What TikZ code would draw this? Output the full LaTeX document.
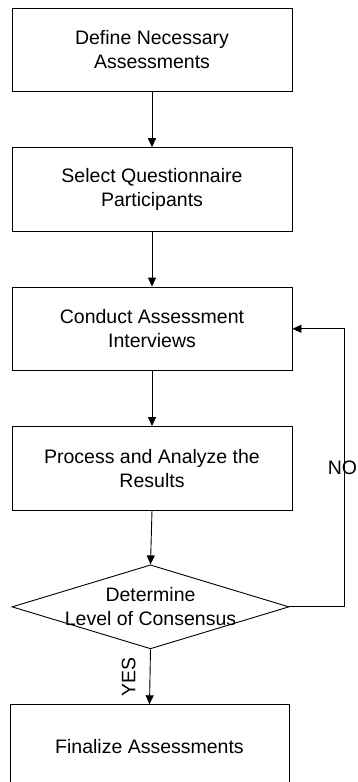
\documentclass[tikz,border=0pt]{standalone}
\usepackage{fontspec}
\setmainfont{Liberation Sans}
\usetikzlibrary{positioning,shapes.geometric,arrows.meta}

\begin{document}
\begin{tikzpicture}[
    node distance=55pt,
    every node/.style={font=\fontsize{19.5}{24}\selectfont},
    stepbox/.style={draw, line width=0.9pt, minimum width=280pt,
                    minimum height=83.5pt, inner sep=4pt, align=center},
    decision/.style={draw, diamond, line width=0.9pt, minimum width=277pt,
                     minimum height=84pt, inner sep=0pt},
    flow/.style={line width=0.9pt, -{Triangle[width=8pt,length=9pt]}}
  ]
    \useasboundingbox (0,0) rectangle (357pt,-782pt);

    % Columna principal, de arriba abajo
    \node[stepbox] (define) at (152pt,-50pt) {Define Necessary\\Assessments};
    \node[stepbox, below=of define]  (select)  {Select Questionnaire\\Participants};
    \node[stepbox, below=of select]  (conduct) {Conduct Assessment\\Interviews};
    \node[stepbox, below=of conduct] (process) {Process and Analyze the\\Results};
    \node[decision, below=54pt of process, xshift=-1.5pt,
          label={[align=center]center:Determine\\Level of Consensus}] (decide) {};
    \node[stepbox, below=of decide, xshift=-1pt, minimum width=279pt] (final)
          {Finalize Assessments};

    % Conexiones
    \draw[flow] (define) -- (select);
    \draw[flow] (select) -- (conduct);
    \draw[flow] (conduct) -- (process);
    \draw[flow] (process.south) -- (decide.north);
    \draw[flow] (decide.south) -- (final.north)
        node[midway, rotate=90, anchor=south, inner sep=14pt] {YES};

    % Vuelta atras cuando no hay consenso
    \draw[flow] (decide.east) -- ++(55pt,0) |- (conduct.east)
        node[pos=0.25, xshift=-2pt] {NO};
  \end{tikzpicture}
\end{document}
